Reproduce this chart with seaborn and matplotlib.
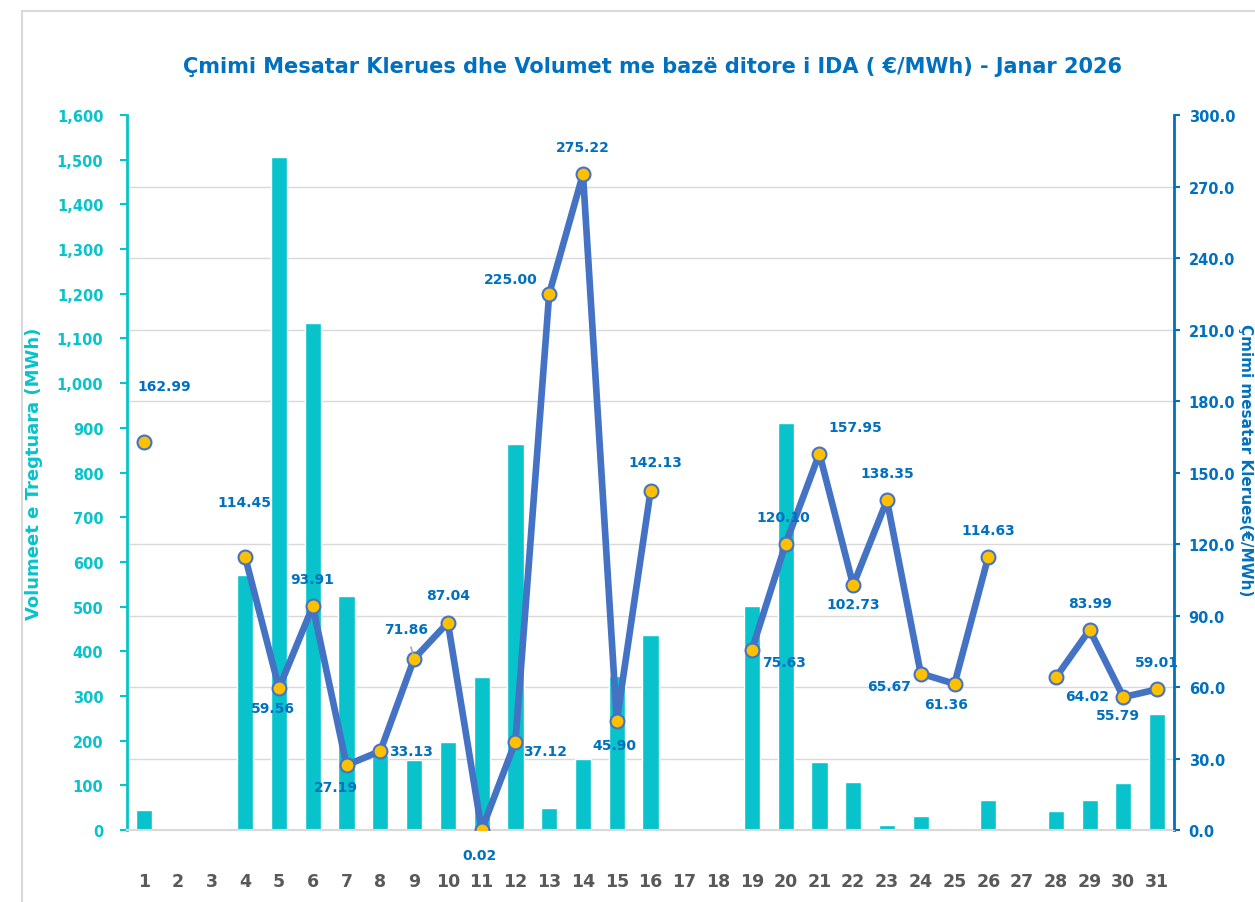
import numpy as np
import pandas as pd
import matplotlib
matplotlib.use("Agg")
import matplotlib.pyplot as plt
import seaborn as sns
from matplotlib.patches import Rectangle
from matplotlib.ticker import MultipleLocator

days = list(range(1, 32))
volume = [45, 0, 0, 570, 1505, 1134, 524, 168, 157, 197, 342, 863, 49, 159, 345, 437,
          0, 0, 501, 910, 152, 107, 11, 31, 4, 67, 0, 43, 67, 105, 260]
price = [162.99, np.nan, np.nan, 114.45, 59.56, 93.91, 27.19, 33.13, 71.86, 87.04, 0.02,
         37.12, 225.00, 275.22, 45.90, 142.13, np.nan, np.nan, 75.63, 120.10, 157.95,
         102.73, 138.35, 65.67, 61.36, 114.63, np.nan, 64.02, 83.99, 55.79, 59.01]

title = "Çmimi Mesatar Klerues dhe Volumet me bazë ditore i IDA ( €/MWh) - Janar 2026"
left_label = "Volumeet e Tregtuara (MWh)"
right_label = "Çmimi mesatar Klerues(€/MWh)"

# label offsets in pixels (dx, dy)
offsets = {1: (20, 56), 4: (-1, 55), 5: (-6, -20), 6: (-1, 27), 7: (-11, -22),
           8: (31, 0), 9: (-8, 30), 10: (0, 28), 11: (-2, -25), 12: (30, -9),
           13: (-38, 15), 14: (0, 27), 15: (-2, -24), 16: (5, 29), 19: (32, -12),
           20: (-2, 27), 21: (36, 27), 22: (0, -19), 23: (0, 27), 24: (-32, -12),
           25: (-8, -20), 26: (0, 27), 28: (31, -19), 29: (0, 27), 30: (-6, -18),
           31: (0, 27)}

cyan = "#08C3CB"
blue = "#0070C0"
line_blue = "#4472C4"
gold = "#FFC000"

sns.set_style("white")
plt.rcParams['font.family'] = ['DejaVu Sans']

df = pd.DataFrame({"day": days, "volume": volume, "price": price})

fig = plt.figure(figsize=(12.55, 9.03), dpi=100)
ax = fig.add_axes([0.1012, 0.0797, 0.8343, 0.7918])
ax2 = ax.twinx()

sns.barplot(data=df, x="day", y="volume", native_scale=True, width=0.48,
            color=cyan, saturation=1, ax=ax, zorder=2)
ax.set_xlim(0.5, 31.5)
ax.set_ylim(0, 1600)
ax.set_yticks(range(0, 1601, 100))
ax.set_yticklabels([f"{v:,}" for v in range(0, 1601, 100)], color=cyan,
                   fontweight="bold", fontsize=10.5)
# gridlines follow the price axis (every 30 -> every 160 MWh), drawn under the bars
ax.yaxis.set_minor_locator(MultipleLocator(160))
ax.grid(False)
ax.grid(axis="y", which="minor", color="#D9D9D9", lw=1, zorder=0)
ax.set_axisbelow(True)
ax.set_xticks(days)
ax.set_xticklabels([str(d) for d in days], color="#595959", fontweight="bold",
                   fontsize=12.5)
ax.tick_params(axis="x", length=0, pad=30)
ax.tick_params(axis="y", which="major", length=5, width=1.5, color=cyan,
               direction="out", left=True, pad=12)
ax.tick_params(axis="y", which="minor", length=0)
ax.set_xlabel("")
ax.set_ylabel(left_label, color=cyan, fontweight="bold", fontsize=13, labelpad=10)

ax2.plot(df["day"], df["price"], color=line_blue, lw=4.8, marker="o", ms=10,
         mfc=gold, mec=line_blue, mew=1.5, zorder=5)
ax2.set_ylim(0, 300)
ax2.set_yticks(range(0, 301, 30))
ax2.set_yticklabels([f"{v:.1f}" for v in range(0, 301, 30)], color=blue,
                    fontweight="bold", fontsize=10.5)
ax2.tick_params(axis="y", length=4.5, width=1.5, color=blue, direction="out",
                right=True, pad=6)
ax2.grid(False)

fig.text(1246 / 1255, 0.49, right_label, rotation=-90, ha="center", va="center",
         color=blue, fontweight="bold", fontsize=11)

for d, p in zip(days, price):
    if np.isnan(p) or d not in offsets:
        continue
    dx, dy = offsets[d]
    kw = {}
    if d == 9:
        kw["arrowprops"] = dict(arrowstyle="-", color="#A6A6A6", lw=1.2, shrinkA=6, shrinkB=4)
    ax2.annotate(f"{p:.2f}", (d, p), xytext=(dx, dy), textcoords="offset pixels",
                 ha="center", va="center", color=blue, fontweight="bold", fontsize=10,
                 zorder=6, **kw)

ax.spines["top"].set_visible(False)
ax2.spines["top"].set_visible(False)
ax.spines["left"].set_color(cyan)
ax.spines["left"].set_linewidth(2)
ax2.spines["left"].set_visible(False)
ax2.spines["right"].set_color(blue)
ax2.spines["right"].set_linewidth(2)
ax.spines["right"].set_visible(False)
ax.spines["bottom"].set_color("#D9D9D9")
ax2.spines["bottom"].set_color("#D9D9D9")
ax.spines["bottom"].set_linewidth(1.5)

fig.text(0.52, 0.926, title, ha="center", va="center", color=blue, fontweight="bold",
         fontsize=15)

fig.patches.append(Rectangle((0.0175, -0.1), 1.2, 1.087, transform=fig.transFigure,
                             fill=False, ec="#D9D9D9", lw=1.5))

fig.savefig("out.png", dpi=100)
